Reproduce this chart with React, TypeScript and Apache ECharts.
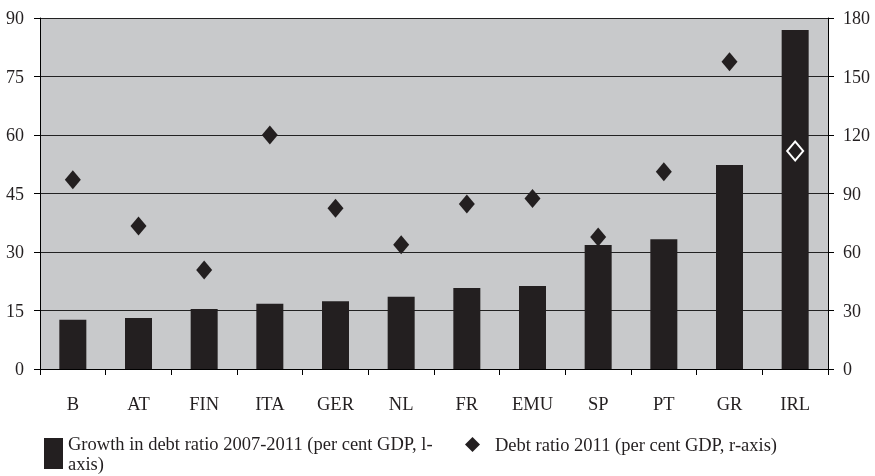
import React, { useEffect, useRef } from "react";
import * as echarts from "echarts";

const categories = ["B", "AT", "FIN", "ITA", "GER", "NL", "FR", "EMU", "SP", "PT", "GR", "IRL"];
const growthValues = [12.6, 13.1, 15.4, 16.7, 17.4, 18.5, 20.8, 21.3, 31.8, 33.3, 52.3, 86.9];
const debtValues = [97, 73.3, 50.8, 120, 82.4, 63.7, 84.6, 87.5, 67.7, 101.2, 157.6, 111.8];
const leftTicks = { min: 0, max: 90, interval: 15 };
const rightTicks = { min: 0, max: 180, interval: 30 };
const growthName = "Growth in debt ratio 2007-2011 (per cent GDP, l-axis)";
const debtName = "Debt ratio 2011 (per cent GDP, r-axis)";

const FONT = "'Liberation Serif', 'Times New Roman', serif";
const DARK = "#231f20";

export default function App() {
  const ref = useRef<HTMLDivElement>(null);
  useEffect(() => {
    if (!ref.current) return;
    const chart = echarts.init(ref.current, undefined, { renderer: "svg" });
    const debtData = debtValues.map((v, i) =>
      categories[i] === "IRL"
        ? { value: v, itemStyle: { color: DARK, borderColor: "#ffffff", borderWidth: 2 } }
        : v
    );
    chart.setOption({
      animation: false,
      textStyle: { fontFamily: FONT },
      grid: {
        left: 40,
        right: 47,
        top: 18,
        bottom: 107,
        show: true,
        backgroundColor: "#c8c9cb",
        borderWidth: 0,
      },
      legend: [
        {
          data: [{ name: growthName, icon: "rect" }],
          left: 44,
          top: 425,
          itemWidth: 19,
          itemHeight: 31,
          padding: 0,
          formatter: () => "Growth in debt ratio 2007-2011 (per cent GDP, l-\naxis)",
          textStyle: {
            fontFamily: FONT,
            fontSize: 18.5,
            color: DARK,
            lineHeight: 20,
            padding: [17, 0, 0, 0],
          },
        },
        {
          data: [{ name: debtName, icon: "diamond" }],
          left: 465,
          top: 435,
          itemWidth: 15,
          itemHeight: 15,
          padding: 0,
          textStyle: {
            fontFamily: FONT,
            fontSize: 18.5,
            color: DARK,
            padding: [0, 0, 0, 10],
          },
        },
      ],
      xAxis: {
        type: "category",
        data: categories,
        boundaryGap: true,
        axisLine: { show: true, lineStyle: { color: "#000", width: 1 } },
        axisTick: { show: true, alignWithLabel: false, length: 6, lineStyle: { color: "#000" } },
        axisLabel: { fontFamily: FONT, fontSize: 18.5, color: DARK, margin: 25 },
        splitLine: { show: false },
      },
      yAxis: [
        {
          type: "value",
          min: leftTicks.min,
          max: leftTicks.max,
          interval: leftTicks.interval,
          position: "left",
          axisLine: { show: true, lineStyle: { color: "#000", width: 1 } },
          axisTick: { show: true, length: 6, lineStyle: { color: "#000" } },
          axisLabel: { fontFamily: FONT, fontSize: 18, color: DARK, margin: 16 },
          splitLine: { show: true, lineStyle: { color: "#222", width: 1 } },
        },
        {
          type: "value",
          min: rightTicks.min,
          max: rightTicks.max,
          interval: rightTicks.interval,
          position: "right",
          axisLine: { show: true, lineStyle: { color: "#000", width: 1 } },
          axisTick: { show: true, length: 6, lineStyle: { color: "#000" } },
          axisLabel: { fontFamily: FONT, fontSize: 18, color: DARK, margin: 15 },
          splitLine: { show: false },
        },
      ],
      series: [
        {
          name: growthName,
          type: "bar",
          yAxisIndex: 0,
          data: growthValues,
          barWidth: 27,
          itemStyle: { color: DARK },
        },
        {
          name: debtName,
          type: "scatter",
          yAxisIndex: 1,
          data: debtData,
          symbol: "diamond",
          symbolSize: [16, 19],
          itemStyle: { color: DARK, opacity: 1 },
          z: 3,
        },
      ],
    });
    return () => chart.dispose();
  }, []);
  return (
    <div
      ref={ref}
      style={{ position: "fixed", left: 0, top: 0, width: 875, height: 476 }}
    />
  );
}
